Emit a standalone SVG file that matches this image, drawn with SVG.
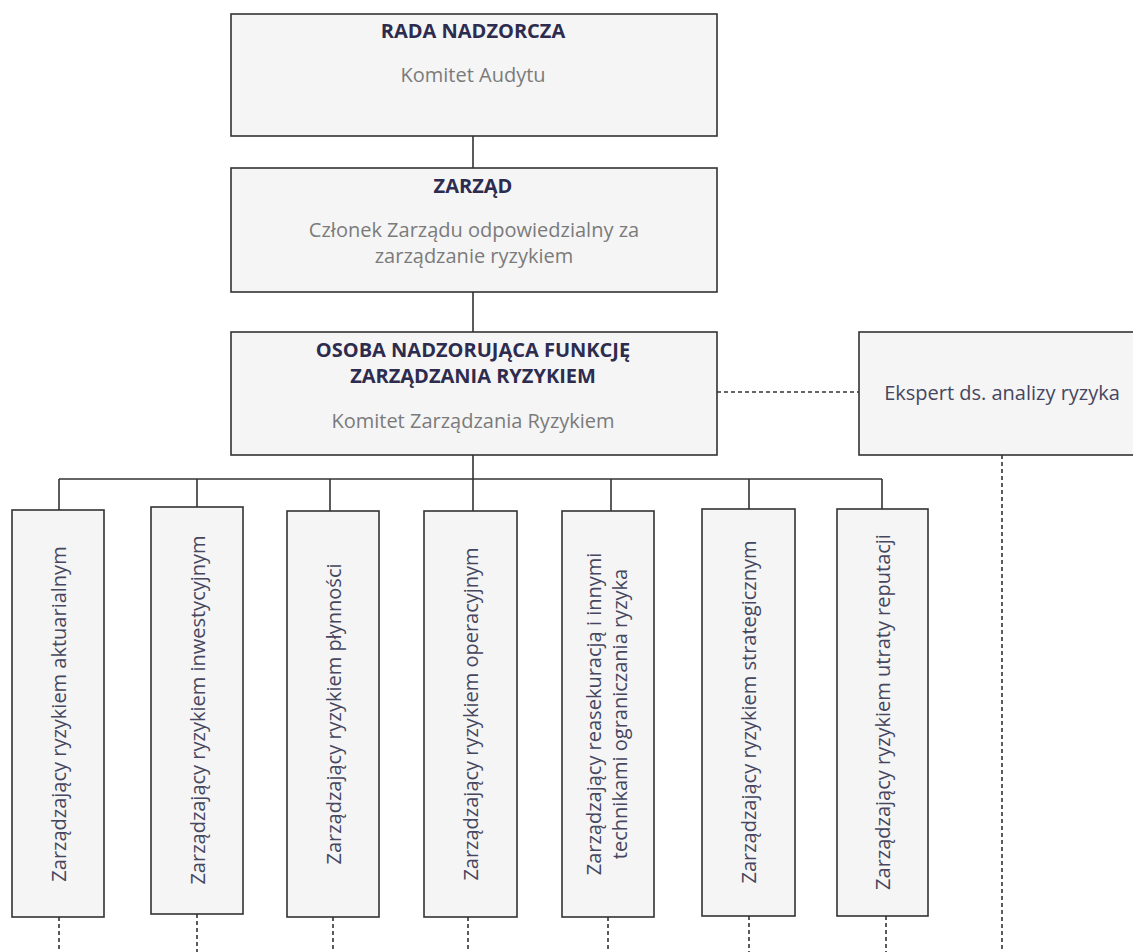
<svg xmlns="http://www.w3.org/2000/svg" width="1133" height="952" viewBox="0 0 1133 952">
  <style>
    .box { fill: #f5f5f5; stroke: #333333; stroke-width: 1.6; }
    .title { font-family: "Open Sans", "DejaVu Sans", sans-serif; font-size: 20px; font-weight: 700; fill: #2e2c4e; text-anchor: middle; }
    .sub { font-family: "Open Sans", "DejaVu Sans", sans-serif; font-size: 20px; fill: #7b7b7b; text-anchor: middle; }
    .lbl { font-family: "Open Sans", "DejaVu Sans", sans-serif; font-size: 20px; fill: #46465f; text-anchor: middle; }
    .solid { fill: none; stroke: #333333; stroke-width: 1.6; }
    .dash { fill: none; stroke: #333333; stroke-width: 1.6; stroke-dasharray: 4 3; }
  </style>
  <rect width="1133" height="952" fill="#ffffff"/>

  <g id="connectors">
    <line class="solid" x1="473" y1="136" x2="473" y2="168"/>
    <line class="solid" x1="473" y1="292" x2="473" y2="332"/>
    <line class="solid" x1="473" y1="455" x2="473" y2="479"/>
    <line class="solid" x1="59" y1="479" x2="882" y2="479"/>
    <line class="solid" x1="59" y1="479" x2="59" y2="510"/>
    <line class="solid" x1="197" y1="479" x2="197" y2="507"/>
    <line class="solid" x1="330" y1="479" x2="330" y2="511"/>
    <line class="solid" x1="473" y1="479" x2="473" y2="511"/>
    <line class="solid" x1="611" y1="479" x2="611" y2="511"/>
    <line class="solid" x1="749" y1="479" x2="749" y2="509"/>
    <line class="solid" x1="882" y1="479" x2="882" y2="509"/>
    <line class="dash" x1="717" y1="392" x2="859" y2="392"/>
    <line class="dash" x1="1002" y1="455" x2="1002" y2="952"/>
    <line class="dash" x1="59" y1="917" x2="59" y2="952"/>
    <line class="dash" x1="197" y1="914" x2="197" y2="952"/>
    <line class="dash" x1="333" y1="917" x2="333" y2="952"/>
    <line class="dash" x1="468" y1="917" x2="468" y2="952"/>
    <line class="dash" x1="608" y1="917" x2="608" y2="952"/>
    <line class="dash" x1="749" y1="916" x2="749" y2="952"/>
    <line class="dash" x1="886" y1="916" x2="886" y2="952"/>
  </g>

  <g id="rada-nadzorcza">
    <rect class="box" x="231" y="14" width="486" height="122"/>
    <text class="title" x="473" y="38">RADA NADZORCZA</text>
    <text class="sub" x="473" y="82">Komitet Audytu</text>
  </g>

  <g id="zarzad">
    <rect class="box" x="231" y="168" width="486" height="124"/>
    <text class="title" x="473" y="193">ZARZĄD</text>
    <text class="sub" x="474" y="237">Członek Zarządu odpowiedzialny za</text>
    <text class="sub" x="474" y="263">zarządzanie ryzykiem</text>
  </g>

  <g id="osoba-nadzorujaca">
    <rect class="box" x="231" y="332" width="486" height="123"/>
    <text class="title" x="473" y="357">OSOBA NADZORUJĄCA FUNKCJĘ</text>
    <text class="title" x="473" y="383">ZARZĄDZANIA RYZYKIEM</text>
    <text class="sub" x="473" y="428">Komitet Zarządzania Ryzykiem</text>
  </g>

  <g id="ekspert">
    <rect class="box" x="859" y="332" width="290" height="123"/>
    <text class="lbl" x="1002" y="400">Ekspert ds. analizy ryzyka</text>
  </g>

  <g id="ryzyko-aktuarialne">
    <rect class="box" x="12" y="510" width="92" height="407"/>
    <text class="lbl" transform="translate(58 714) rotate(-90)" x="0" y="7.5">Zarządzający ryzykiem aktuarialnym</text>
  </g>

  <g id="ryzyko-inwestycyjne">
    <rect class="box" x="151" y="507" width="92" height="407"/>
    <text class="lbl" transform="translate(197 710) rotate(-90)" x="0" y="7.5">Zarządzający ryzykiem inwestycyjnym</text>
  </g>

  <g id="ryzyko-plynnosci">
    <rect class="box" x="287" y="511" width="92" height="406"/>
    <text class="lbl" transform="translate(333 714) rotate(-90)" x="0" y="7.5">Zarządzający ryzykiem płynności</text>
  </g>

  <g id="ryzyko-operacyjne">
    <rect class="box" x="424" y="511" width="93" height="406"/>
    <text class="lbl" transform="translate(470 714) rotate(-90)" x="0" y="7.5">Zarządzający ryzykiem operacyjnym</text>
  </g>

  <g id="reasekuracja">
    <rect class="box" x="562" y="511" width="92" height="406"/>
    <text class="lbl" transform="translate(608 714) rotate(-90)" x="0" y="-7">Zarządzający reasekuracją i innymi</text>
    <text class="lbl" transform="translate(608 714) rotate(-90)" x="0" y="19">technikami ograniczania ryzyka</text>
  </g>

  <g id="ryzyko-strategiczne">
    <rect class="box" x="702" y="509" width="93" height="407"/>
    <text class="lbl" transform="translate(748 712) rotate(-90)" x="0" y="7.5">Zarządzający ryzykiem strategicznym</text>
  </g>

  <g id="ryzyko-reputacji">
    <rect class="box" x="837" y="509" width="91" height="407"/>
    <text class="lbl" transform="translate(882 712) rotate(-90)" x="0" y="7.5">Zarządzający ryzykiem utraty reputacji</text>
  </g>
</svg>
